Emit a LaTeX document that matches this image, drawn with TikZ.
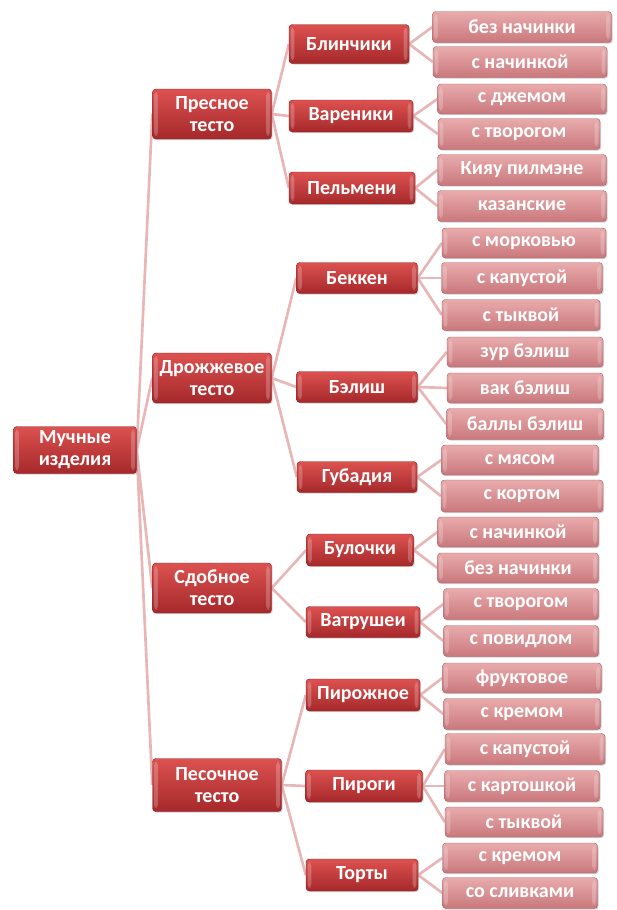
\documentclass[tikz,border=0pt]{standalone}
\usepackage{fontspec}
\setmainfont{Carlito}
\usetikzlibrary{shadows,backgrounds}
\definecolor{dtop}{HTML}{DC5250}
\definecolor{dbot}{HTML}{A6282A}
\definecolor{ltop}{HTML}{E9ABAC}
\definecolor{lbot}{HTML}{C9787C}
\definecolor{conn}{HTML}{E8B6B6}
\tikzset{
  sz/.style 2 args={minimum width=#1*0.75pt, minimum height=#2*0.75pt},
  box/.style={rounded corners=2.5pt, inner sep=0pt, text=white,
    font=\fontsize{15}{16.5}\selectfont\bfseries, align=center,
    drop shadow={shadow xshift=0.9pt, shadow yshift=-0.9pt, opacity=0.35},
    path picture={
      \fill[white, opacity=0.22] ([xshift=1.2pt,yshift=-2.5pt]path picture bounding box.north west) rectangle ([xshift=4pt,yshift=2.5pt]path picture bounding box.south west);
      \fill[white, opacity=0.22] ([xshift=-1.2pt,yshift=-2.5pt]path picture bounding box.north east) rectangle ([xshift=-4pt,yshift=2.5pt]path picture bounding box.south east);
    }},
  dbox/.style={box, top color=dtop, bottom color=dbot, draw=dbot!80!black, line width=0.3pt},
  lbox/.style={box, top color=ltop, bottom color=lbot, draw=lbot!80!black, line width=0.3pt},
  link/.style={draw=conn, line width=2pt},
}
\begin{document}
\begin{tikzpicture}[x=0.75pt,y=-0.75pt]
\useasboundingbox (0,0) rectangle (617,910);
% root
\node[dbox, sz={123}{47}] (root) at (75,450) {Мучные\\изделия};
% level 1
\node[dbox, sz={119}{50}] (p1) at (212,114) {Пресное\\тесто};
\node[dbox, sz={119}{50}] (p2) at (212,378) {Дрожжевое\\тесто};
\node[dbox, sz={119}{50}] (p3) at (212,588) {Сдобное\\тесто};
\node[dbox, sz={129}{53}] (p4) at (217,785) {Песочное\\тесто};
% level 2
\node[dbox, sz={120}{39}] (a1) at (349,44) {Блинчики};
\node[dbox, sz={124}{32}] (a2) at (351,116) {Вареники};
\node[dbox, sz={126}{32}] (a3) at (352,188) {Пельмени};
\node[dbox, sz={121}{31}] (b1) at (357,278) {Беккен};
\node[dbox, sz={121}{31}] (b2) at (357,387) {Бэлиш};
\node[dbox, sz={120}{31}] (b3) at (357,477) {Губадия};
\node[dbox, sz={107}{32}] (c1) at (360,550) {Булочки};
\node[dbox, sz={114}{31}] (c2) at (363,622) {Ватрушеи};
\node[dbox, sz={114}{32}] (d1) at (363,695) {Пирожное};
\node[dbox, sz={117}{32}] (d2) at (364,786) {Пироги};
\node[dbox, sz={112}{32}] (d3) at (362,875) {Торты};
% leaves
\node[lbox, sz={179}{31}] (a11) at (522,27) {без начинки};
\node[lbox, sz={174}{31}] (a12) at (520,62) {с начинкой};
\node[lbox, sz={169}{30}] (a21) at (522,99) {с джемом};
\node[lbox, sz={162}{31}] (a22) at (519,134) {с творогом};
\node[lbox, sz={169}{31}] (a31) at (522,170) {Кияу пилмэне};
\node[lbox, sz={169}{31}] (a32) at (522,206) {казанские};
\node[lbox, sz={164}{30}] (b11) at (524,243) {с морковью};
\node[lbox, sz={161}{31}] (b12) at (522,278) {с капустой};
\node[lbox, sz={158}{31}] (b13) at (521,315) {с тыквой};
\node[lbox, sz={156}{30}] (b21) at (525,352) {зур бэлиш};
\node[lbox, sz={156}{30}] (b22) at (525,388) {вак бэлиш};
\node[lbox, sz={157}{31}] (b23) at (525,424) {баллы бэлиш};
\node[lbox, sz={157}{30}] (b31) at (520,460) {с мясом};
\node[lbox, sz={162}{32}] (b32) at (522,496) {с кортом};
\node[lbox, sz={161}{30}] (c11) at (518,532) {с начинкой};
\node[lbox, sz={161}{30}] (c12) at (518,568) {без начинки};
\node[lbox, sz={155}{31}] (c21) at (521,604) {с творогом};
\node[lbox, sz={155}{31}] (c22) at (521,641) {с повидлом};
\node[lbox, sz={159}{30}] (d11) at (522,678) {фруктовое};
\node[lbox, sz={157}{31}] (d12) at (522,714) {с кремом};
\node[lbox, sz={160}{31}] (d21) at (525,749) {с капустой};
\node[lbox, sz={155}{31}] (d22) at (522,786) {с картошкой};
\node[lbox, sz={158}{30}] (d23) at (524,822) {с тыквой};
\node[lbox, sz={155}{30}] (d31) at (520,858) {с кремом};
\node[lbox, sz={155}{31}] (d32) at (520,893) {со сливками};
\begin{pgfonlayer}{background}
\foreach \c in {p1,p2,p3,p4} \draw[link] (root.east) -- (\c.west);
\foreach \c in {a1,a2,a3} \draw[link] (p1.east) -- (\c.west);
\foreach \c in {b1,b2,b3} \draw[link] (p2.east) -- (\c.west);
\foreach \c in {c1,c2} \draw[link] (p3.east) -- (\c.west);
\foreach \c in {d1,d2,d3} \draw[link] (p4.east) -- (\c.west);
\foreach \c in {a11,a12} \draw[link] (a1.east) -- (\c.west);
\foreach \c in {a21,a22} \draw[link] (a2.east) -- (\c.west);
\foreach \c in {a31,a32} \draw[link] (a3.east) -- (\c.west);
\foreach \c in {b11,b12,b13} \draw[link] (b1.east) -- (\c.west);
\foreach \c in {b21,b22,b23} \draw[link] (b2.east) -- (\c.west);
\foreach \c in {b31,b32} \draw[link] (b3.east) -- (\c.west);
\foreach \c in {c11,c12} \draw[link] (c1.east) -- (\c.west);
\foreach \c in {c21,c22} \draw[link] (c2.east) -- (\c.west);
\foreach \c in {d11,d12} \draw[link] (d1.east) -- (\c.west);
\foreach \c in {d21,d22,d23} \draw[link] (d2.east) -- (\c.west);
\foreach \c in {d31,d32} \draw[link] (d3.east) -- (\c.west);
\end{pgfonlayer}
\end{tikzpicture}
\end{document}
